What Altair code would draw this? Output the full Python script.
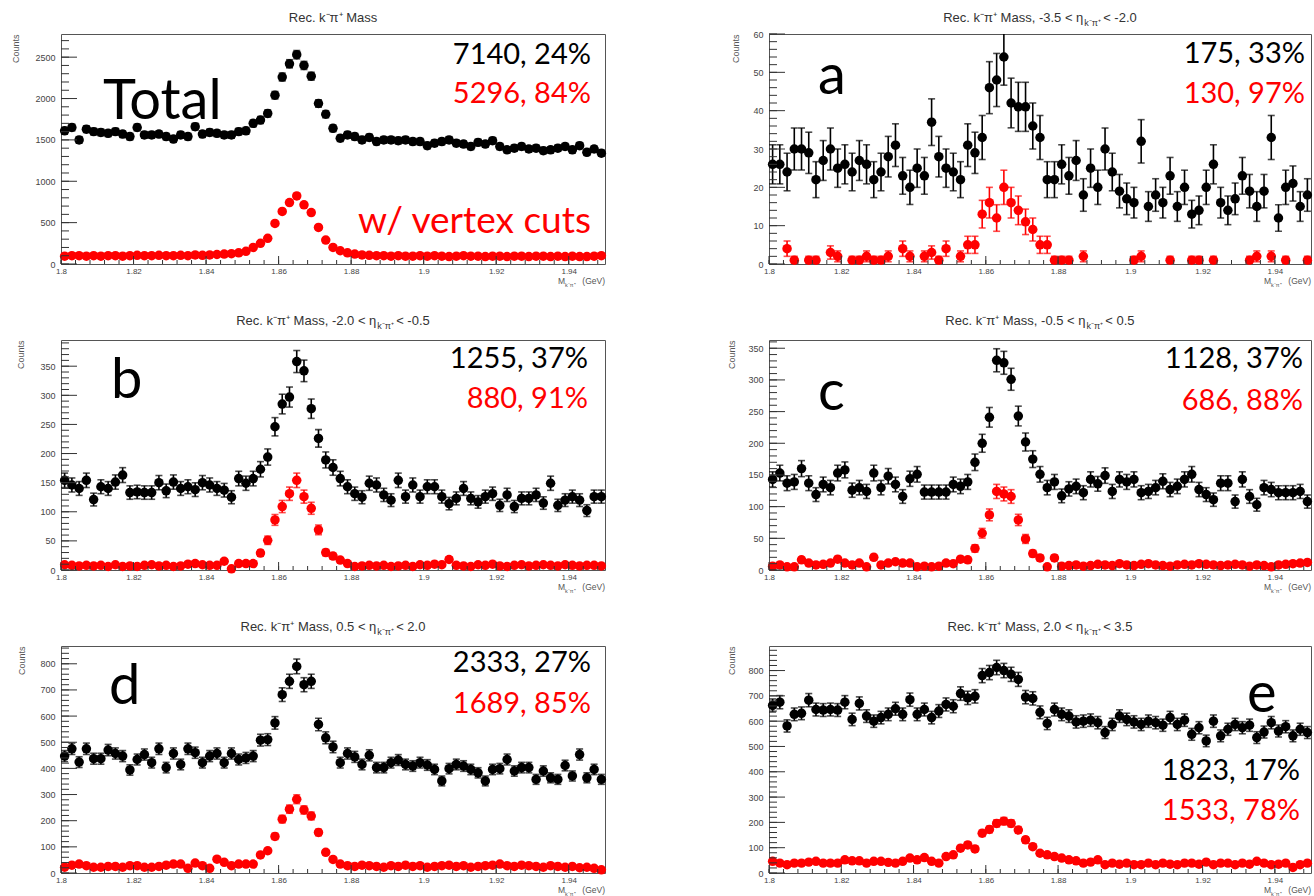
import altair as alt
import pandas as pd

# ---- histogram binning: reconstructed K-pi invariant mass, GeV ----
M_LO, M_HI, N_BINS = 1.80, 1.95, 75
BIN_W = (M_HI - M_LO) / N_BINS
MASS = [round(M_LO + (i + 0.5) * BIN_W, 4) for i in range(N_BINS)]

X_MAJOR = [1.80, 1.82, 1.84, 1.86, 1.88, 1.90, 1.92, 1.94]
X_MINOR = [round(M_LO + 0.004 * i, 3) for i in range(38)]

# ---- bin contents: all candidates (black) and with vertex cuts (red) ----
TOTAL_ALL = [1610, 1650, 1500, 1630, 1600, 1590, 1580, 1600, 1570, 1540, 1650, 1560, 1560, 1570, 1540,
             1510, 1560, 1540, 1660, 1570, 1590, 1580, 1560, 1560, 1600, 1610, 1700, 1740, 1820, 2040,
             2260, 2420, 2530, 2400, 2270, 1940, 1810, 1640, 1520, 1560, 1540, 1500, 1530, 1480, 1500,
             1500, 1490, 1500, 1480, 1480, 1430, 1460, 1480, 1500, 1460, 1450, 1420, 1470, 1450, 1490,
             1420, 1380, 1400, 1420, 1390, 1400, 1370, 1380, 1400, 1420, 1380, 1430, 1350, 1390, 1340]
TOTAL_CUT = [95, 100, 100, 95, 100, 95, 100, 100, 95, 100, 105, 100, 100, 105, 100,
             100, 105, 100, 110, 105, 110, 115, 120, 125, 135, 153, 200, 250, 310, 490,
             635, 743, 823, 715, 622, 442, 289, 200, 160, 135, 120, 110, 105, 100, 100,
             95, 100, 95, 95, 100, 95, 100, 95, 90, 95, 100, 95, 95, 90, 95,
             95, 90, 95, 95, 90, 95, 95, 90, 95, 90, 95, 90, 90, 95, 100]

A_ALL = [26, 26, 24, 30, 30, 29, 22, 27, 30, 25, 26, 24, 27, 26, 22,
         24, 28, 31, 23, 20, 25, 23, 37, 28, 25, 24, 22, 31, 29, 33,
         46, 48, 54, 42, 41, 41, 36, 33, 22, 22, 26, 23, 27, 18, 25,
         20, 30, 24, 19, 17, 16, 32, 15, 18, 16, 23, 15, 20, 13, 14,
         20, 26, 16, 14, 17, 23, 19, 15, 19, 33, 12, 20, 21, 15, 18]
A_CUT = [None, None, 4, 1, None, 1, 1, None, 3, 2, None, 1, 1, 2, 1,
         1, 2, None, 4, 2, None, 2, 3, 1, 4, None, 2, 5, 5, 13,
         16, 12, 20, 16, 14, 11, 9, 5, 5, 1, 1, 1, None, 2, None,
         None, None, None, None, None, 1, 2, None, None, None, 1, None, None, 1, 1,
         None, 1, None, None, None, None, 1, 2, None, 2, None, 1, None, None, 1]

B_ALL = [154, 146, 140, 154, 121, 143, 140, 151, 163, 133, 134, 133, 133, 150, 136,
         151, 140, 143, 138, 150, 146, 140, 137, 125, 157, 149, 157, 173, 194, 246,
         285, 297, 358, 342, 277, 226, 189, 176, 157, 143, 131, 125, 149, 146, 129,
         120, 154, 126, 146, 126, 143, 143, 126, 114, 123, 140, 123, 117, 126, 131,
         111, 129, 109, 123, 123, 129, 115, 149, 111, 120, 126, 120, 102, 126, 126]
B_CUT = [9, 8, 7, 8, 7, 8, 6, 9, 6, 7, 6, 8, 9, 7, 8,
         6, 7, 10, 11, 9, 8, 8, 15, 2, 11, 11, 11, 29, 51, 86,
         109, 131, 154, 126, 106, 69, 30, 24, 17, 11, 6, 7, 8, 7, 8,
         6, 7, 8, 6, 9, 8, 10, 9, 18, 8, 7, 6, 9, 8, 10,
         7, 6, 8, 9, 7, 8, 9, 8, 7, 9, 8, 7, 8, 8, 7]

C_ALL = [143, 153, 137, 139, 160, 137, 119, 135, 130, 153, 158, 126, 130, 124, 153,
         130, 148, 135, 116, 144, 151, 123, 123, 123, 123, 135, 132, 139, 170, 200,
         241, 331, 327, 301, 243, 202, 175, 151, 130, 139, 117, 128, 132, 122, 143,
         136, 149, 124, 143, 139, 143, 122, 124, 130, 140, 127, 132, 143, 151, 127,
         119, 111, 137, 137, 108, 143, 116, 103, 130, 127, 122, 122, 122, 124, 108]
C_CUT = [6, 8, 5, 5, 16, 11, 8, 9, 11, 17, 11, 8, 11, 5, 20,
         8, 11, 13, 11, 11, 5, 6, 5, 6, 11, 10, 17, 16, 34, 58,
         87, 124, 120, 116, 79, 49, 26, 19, 5, 19, 6, 7, 8, 6, 7,
         9, 8, 7, 10, 8, 7, 9, 10, 8, 7, 6, 8, 9, 8, 10,
         9, 8, 7, 8, 9, 8, 6, 8, 7, 5, 8, 9, 10, 11, 12]

D_ALL = [447, 475, 424, 475, 437, 437, 470, 457, 447, 394, 434, 453, 422, 475, 403,
         457, 415, 475, 460, 422, 447, 457, 422, 457, 434, 440, 447, 508, 510, 574,
         682, 733, 790, 720, 733, 568, 517, 482, 422, 457, 444, 415, 450, 403, 403,
         422, 432, 415, 409, 422, 413, 396, 352, 399, 415, 409, 396, 383, 352, 396,
         399, 434, 390, 403, 403, 358, 390, 364, 358, 411, 371, 453, 364, 396, 358]
D_CUT = [22, 30, 34, 28, 22, 22, 25, 25, 22, 28, 28, 22, 22, 25, 30,
         34, 34, 18, 38, 28, 18, 53, 41, 28, 34, 34, 34, 69, 85, 140,
         206, 244, 282, 241, 218, 155, 79, 52, 34, 28, 25, 30, 28, 25, 22,
         28, 25, 30, 25, 28, 22, 25, 28, 30, 25, 28, 22, 25, 28, 30,
         34, 28, 25, 30, 28, 25, 22, 28, 25, 22, 25, 20, 22, 18, 12]

E_ALL = [662, 675, 581, 627, 631, 683, 646, 644, 646, 644, 675, 607, 670, 620, 600,
         614, 627, 649, 627, 685, 627, 646, 614, 640, 666, 659, 709, 692, 698, 780,
         792, 812, 800, 785, 765, 695, 690, 635, 591, 646, 627, 620, 597, 600, 604,
         594, 555, 587, 620, 607, 597, 587, 600, 594, 584, 614, 587, 604, 548, 574,
         522, 600, 542, 568, 587, 574, 584, 535, 557, 594, 561, 578, 542, 568, 555]
E_CUT = [46, 39, 33, 39, 39, 43, 46, 39, 39, 39, 52, 48, 48, 39, 46,
         46, 42, 39, 46, 59, 52, 61, 46, 39, 65, 72, 98, 111, 95, 157,
         172, 196, 205, 196, 170, 131, 104, 78, 72, 65, 59, 52, 48, 39, 43,
         52, 33, 39, 35, 39, 33, 33, 39, 33, 39, 35, 33, 39, 39, 35,
         43, 33, 39, 39, 33, 39, 35, 46, 39, 33, 35, 39, 22, 33, 39]

# ---- per-panel labels: tag, eta range, signal yield and purity ----
TAGS = ["Total", "a", "b", "c", "d", "e"]
ETA_RANGES = [None, ("-3.5", "-2.0"), ("-2.0", "-0.5"), ("-0.5", "0.5"), ("0.5", "2.0"), ("2.0", "3.5")]
SIG_ALL = [7140, 175, 1255, 1128, 2333, 1823]
PUR_ALL = [24, 33, 37, 37, 27, 17]
SIG_CUT = [5296, 130, 880, 686, 1689, 1533]
PUR_CUT = [84, 97, 91, 88, 85, 78]

# ---- y-axis ranges and tick steps ----
Y_MAX = [2780, 60, 395, 363, 868, 897]
Y_MAJOR_STEP = [500, 10, 50, 50, 100, 100]
Y_MINOR_STEP = [100, 2, 10, 10, 20, 20]

SERIES_ALL = [TOTAL_ALL, A_ALL, B_ALL, C_ALL, D_ALL, E_ALL]
SERIES_CUT = [TOTAL_CUT, A_CUT, B_CUT, C_CUT, D_CUT, E_CUT]

# ---- layout (plot-area sizes in px) ----
WIDTHS = [544, 542]
HEIGHTS = [230, 230, 227]
ROW_GAP, COL_GAP = 76, 164

BIG_FONT = "Lato"
SMALL_FONT = "Liberation Sans"
RED = "#ff0000"
AX_GRAY = "#444"
TICK_COLOR = "#333"

# annotation placement inside each plot (px from plot's top-left)
TAG_POS = [(42, 85), (49, 60), (50, 58), (49, 70), (48, 58), (478, 66)]
NUM_RIGHT = [530, 536, 527, 534, 530, 531]
NUM_BASE = [(30, 69), (29, 69), (28, 68), (28, 70), (26, 67), (134, 174)]
COUNTS_X = [-43, -31, -38, -35, -37, -35]
TITLE_BASE = [-12, -15, -15]

# rough Helvetica advance widths (em) used to place the eta subscript
ADV = {"R": .722, "e": .556, "c": .5, ".": .278, " ": .278, "k": .5, "⁻": .35, "π": .6,
       "⁺": .35, "M": .833, "a": .556, "s": .5, ",": .278, "-": .333, "<": .584, "η": .556}


def text_width(s, size):
    return size * sum(ADV.get(ch, 0.556) for ch in s)


one = alt.Chart(pd.DataFrame({"_": [0]}))


def txt(text, x, y, size, color="#000", align="left", font=BIG_FONT):
    return one.mark_text(text=text, align=align, baseline="alphabetic", font=font,
                         fontSize=size, color=color).encode(x=alt.value(x), y=alt.value(y))


def steps(step, top):
    vals, v = [], 0
    while v <= top:
        vals.append(v)
        v += step
    return vals


def panel(i):
    W = WIDTHS[i % 2]
    row = i // 2
    H = HEIGHTS[row]
    ymax = Y_MAX[i]
    y_major = steps(Y_MAJOR_STEP[i], ymax)
    y_minor = steps(Y_MINOR_STEP[i], ymax)

    frame = pd.DataFrame({
        "m": MASS * 2,
        "n": SERIES_ALL[i] + SERIES_CUT[i],
        "s": ["all"] * N_BINS + ["cut"] * N_BINS,
    })
    xs = alt.Scale(domain=[M_LO, M_HI], nice=False, zero=False)
    ys = alt.Scale(domain=[0, ymax], nice=False, zero=False)

    lab_x = alt.Axis(orient="bottom", values=X_MAJOR, format=".2~f", ticks=False, tickSize=0,
                     domain=False, grid=False, labelFont=SMALL_FONT, labelFontSize=8,
                     labelColor=AX_GRAY, labelPadding=3, labelFlush=False, labelOverlap=False,
                     title=None)
    lab_y = alt.Axis(orient="left", values=y_major, format="d", ticks=False, tickSize=0,
                     domain=False, grid=False, labelFont=SMALL_FONT, labelFontSize=9,
                     labelColor=AX_GRAY, labelPadding=6, labelFlush=False, labelOverlap=False,
                     title="Counts", titleAngle=270, titleX=COUNTS_X[i], titleY=0,
                     titleAlign="right", titleBaseline="alphabetic", titleFont=SMALL_FONT,
                     titleFontSize=9, titleFontWeight="normal", titleColor="#555")

    layers = []
    base = (alt.Chart(frame)
            .transform_filter("isValid(datum.n) && datum.n > 0")
            .transform_calculate(lo="datum.n - sqrt(datum.n)", hi="datum.n + sqrt(datum.n)"))

    for s, col in [("all", "#000"), ("cut", RED)]:
        first = s == "all"
        sub = base.transform_filter(alt.datum.s == s)
        bars = sub.mark_rule(color=col, strokeWidth=1.6, clip=True).encode(
            x=alt.X("m:Q", scale=xs, axis=None),
            y=alt.Y("lo:Q", scale=ys, axis=None),
            y2="hi:Q")
        caps = (sub.transform_fold(["lo", "hi"], as_=["end", "val"])
                .mark_tick(color=col, orient="horizontal", size=7, thickness=1.6, clip=True)
                .encode(x=alt.X("m:Q", scale=xs, axis=None),
                        y=alt.Y("val:Q", scale=ys, axis=None)))
        dots = sub.mark_circle(color=col, size=90, opacity=1).encode(
            x=alt.X("m:Q", scale=xs, axis=lab_x if first else None),
            y=alt.Y("n:Q", scale=ys, axis=lab_y if first else None))
        layers += [bars, caps, dots]

    # inward-pointing tick marks along the left and bottom frame edges
    def yticks(vals, length):
        return (alt.Chart(pd.DataFrame({"t": vals}))
                .mark_rule(color=TICK_COLOR, strokeWidth=1)
                .encode(y=alt.Y("t:Q", scale=ys, axis=None),
                        x=alt.value(0), x2=alt.value(length)))

    def xticks(vals, length):
        return (alt.Chart(pd.DataFrame({"t": vals}))
                .mark_rule(color=TICK_COLOR, strokeWidth=1)
                .encode(x=alt.X("t:Q", scale=xs, axis=None),
                        y=alt.value(H), y2=alt.value(H - length)))

    layers += [yticks(y_major, 16), yticks(y_minor, 8), xticks(X_MAJOR, 8), xticks(X_MINOR, 4)]

    # big annotations
    tx, ty = TAG_POS[i]
    layers.append(txt(TAGS[i], tx, ty, 56))
    b1, b2 = NUM_BASE[i]
    layers.append(txt(f"{SIG_ALL[i]}, {PUR_ALL[i]}%", NUM_RIGHT[i], b1, 29, align="right"))
    layers.append(txt(f"{SIG_CUT[i]}, {PUR_CUT[i]}%", NUM_RIGHT[i], b2, 29, color=RED, align="right"))
    if i == 0:
        layers.append(txt("w/ vertex cuts", 530, 199, 37, color=RED, align="right"))

    # histogram title
    t_size, s_size = 13, 9
    t_y = TITLE_BASE[row]
    if ETA_RANGES[i] is None:
        layers.append(txt("Rec. k⁻π⁺ Mass", W / 2, t_y, t_size, color="#333",
                          align="center", font=SMALL_FONT))
    else:
        lo, hi = ETA_RANGES[i]
        left = f"Rec. k⁻π⁺ Mass, {lo} < η"
        right = f"< {hi}"
        sub_t = "k⁻π⁺"
        lw, sw, rw = text_width(left, t_size), text_width(sub_t, s_size), text_width(right, t_size)
        gap = text_width(" ", t_size)
        x0 = W / 2 - (lw + sw + gap + rw) / 2 + lw
        layers.append(txt(left, x0, t_y, t_size, color="#333", align="right", font=SMALL_FONT))
        layers.append(txt(sub_t, x0 + 1, t_y + 4, s_size, color="#333", font=SMALL_FONT))
        layers.append(txt(right, x0 + sw + gap, t_y, t_size, color="#333", font=SMALL_FONT))

    # x-axis title M_{k pi} (GeV), just below the last tick label
    layers.append(txt("(GeV)", W, H + 20, 8.5, color="#555", align="right", font=SMALL_FONT))
    layers.append(txt("M", W - 47, H + 20, 8.5, color="#555", font=SMALL_FONT))
    layers.append(txt("k⁻π⁺", W - 40, H + 22.5, 5.5, color="#555", font=SMALL_FONT))

    if i == 0:
        # fixes the top-left corner of the page at (-60, -33) from this plot
        layers.append(one.mark_rule(strokeOpacity=0, strokeWidth=0).encode(
            x=alt.value(-60), x2=alt.value(-59), y=alt.value(-33), y2=alt.value(-33)))

    return (alt.layer(*layers)
            .resolve_axis(x="independent", y="independent")
            .properties(width=W, height=H))


chart = (alt.concat(*[panel(i) for i in range(6)], columns=2,
                    spacing={"row": ROW_GAP, "column": COL_GAP}, bounds="flush")
         .configure_view(stroke="#555", strokeWidth=1)
         .properties(padding=0, background="white"))

chart.save("out.html", embed_options={"renderer": "svg", "actions": False})
